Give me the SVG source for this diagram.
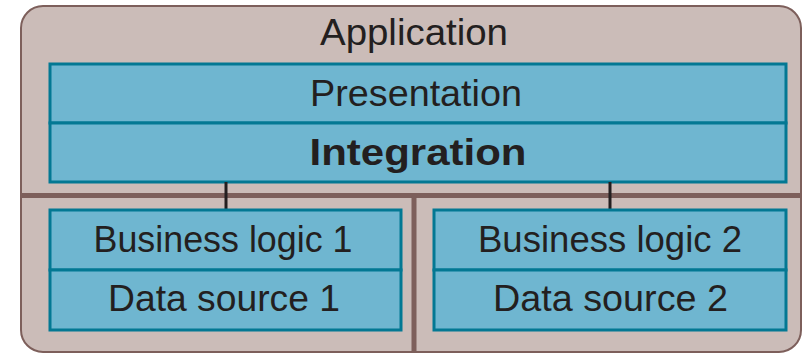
<svg xmlns="http://www.w3.org/2000/svg" width="803" height="353" viewBox="0 0 803 353">
<style>
.box{fill:#6fb6d0;stroke:#037893;stroke-width:3}
.div{stroke:#7d5f5b;stroke-width:5;fill:none}
.lbl{font-family:"Liberation Sans",Arial,sans-serif;font-size:37px;fill:#231f20;text-anchor:middle}
.conn{stroke:#231f20;stroke-width:3}
</style>
<rect width="803" height="353" fill="#ffffff"/>
<g id="application">
<rect x="21" y="6" width="780" height="346" rx="22" fill="#cbbcb8" stroke="#7d5f5b" stroke-width="2"/>
<line class="div" x1="21" y1="195.5" x2="802" y2="195.5"/>
<line class="div" x1="414" y1="196" x2="414" y2="353"/>
<text class="lbl" x="414" y="45" textLength="188" lengthAdjust="spacingAndGlyphs">Application</text>
</g>
<g id="presentation">
<rect class="box" x="50" y="64" width="736" height="59"/>
<text class="lbl" x="416" y="106" textLength="212" lengthAdjust="spacingAndGlyphs">Presentation</text>
</g>
<g id="integration">
<rect class="box" x="50" y="123" width="736" height="59"/>
<text class="lbl" x="418" y="165" font-weight="bold" textLength="217" lengthAdjust="spacingAndGlyphs">Integration</text>
</g>
<g id="connectors">
<line class="conn" x1="226" y1="182" x2="226" y2="209"/>
<line class="conn" x1="610" y1="182" x2="610" y2="209"/>
</g>
<g id="business1">
<rect class="box" x="50" y="210" width="351" height="60"/>
<text class="lbl" x="223" y="252" textLength="259" lengthAdjust="spacingAndGlyphs">Business logic 1</text>
</g>
<g id="data1">
<rect class="box" x="50" y="270" width="351" height="60"/>
<text class="lbl" x="224" y="311" textLength="232" lengthAdjust="spacingAndGlyphs">Data source 1</text>
</g>
<g id="business2">
<rect class="box" x="434" y="210" width="352" height="60"/>
<text class="lbl" x="610" y="252" textLength="264" lengthAdjust="spacingAndGlyphs">Business logic 2</text>
</g>
<g id="data2">
<rect class="box" x="434" y="270" width="352" height="60"/>
<text class="lbl" x="610.5" y="311" textLength="235" lengthAdjust="spacingAndGlyphs">Data source 2</text>
</g>
</svg>
